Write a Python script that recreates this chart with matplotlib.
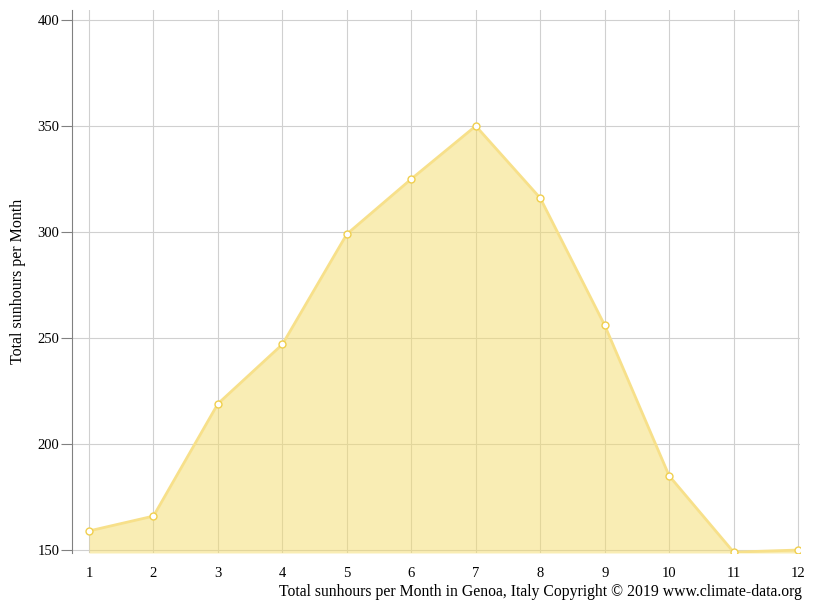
import matplotlib
matplotlib.use("Agg")
import matplotlib.pyplot as plt

months = [1,2,3,4,5,6,7,8,9,10,11,12]
sunhours = [159,166,219,247,299,325,350,316,256,185,149,150]
yticks = [150,200,250,300,350,400]

plt.rcParams['font.family'] = ['Liberation Serif', 'DejaVu Serif']
fig = plt.figure(figsize=(8.15,6.11), dpi=100)
ax = fig.add_axes([72/815, 1-553/611, (800-72)/815, (553-10)/611])
ymin, ymax = 148.6, 404.7
ax.set_xlim(0.736, 12.03)
ax.set_ylim(ymin, ymax)
ax.fill_between(months, sunhours, ymin, color='#f5dc6a', alpha=0.5, lw=0, zorder=2)
ax.plot(months, sunhours, color='#f7e08a', lw=2, zorder=3)
ax.plot(months, sunhours, 'o', ms=5, mfc='white', mec='#f0cf4e', mew=1, zorder=4)
ax.set_xticks(months)
ax.set_yticks(yticks)
ax.grid(True, color='#d0d0d0', lw=0.8, zorder=0)
ax.set_axisbelow(True)
for s in ['top','right','bottom']:
    ax.spines[s].set_visible(False)
ax.spines['left'].set_color('#808080')
ax.tick_params(axis='x', length=0, pad=10, labelsize=10.5)
ax.tick_params(axis='y', length=8, color='#808080', pad=1, labelsize=10.5)
ax.set_ylabel('Total sunhours per Month', fontsize=11.5, labelpad=8)
fig.text(802/815, 1-592/611, 'Total sunhours per Month in Genoa, Italy Copyright © 2019 www.climate-data.org',
         ha='right', va='center', fontsize=11.3)
fig.savefig('out.png', dpi=100)
